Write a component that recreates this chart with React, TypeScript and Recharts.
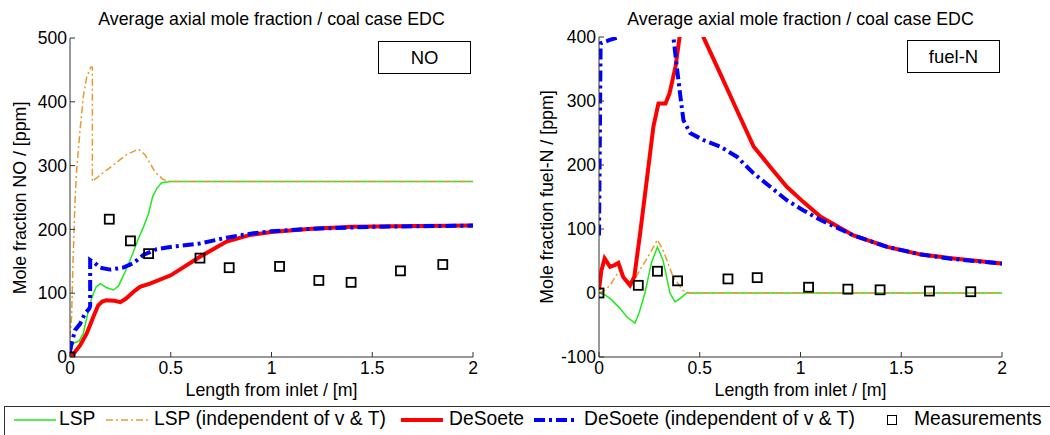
import { ComposedChart, Line, Scatter, XAxis, YAxis } from "recharts";

type Pt = [number, number];

const xTicks = [0, 0.5, 1, 1.5, 2];
const noTicks = [0, 100, 200, 300, 400, 500];
const fuelTicks = [-100, 0, 100, 200, 300, 400];

// NO panel
const lspNO: Pt[] = [
  [0, 5], [0.01, 18], [0.02, 22], [0.045, 25], [0.066, 37], [0.086, 65], [0.107, 92],
  [0.13, 110], [0.15, 115], [0.18, 109], [0.215, 105], [0.24, 111], [0.27, 131],
  [0.305, 157], [0.34, 186], [0.365, 204], [0.39, 225], [0.41, 251], [0.43, 264],
  [0.455, 273], [0.5, 275], [1, 275], [2, 275],
];
const lspIndepNO: Pt[] = [
  [0, 30], [0.008, 63], [0.015, 150], [0.025, 246], [0.033, 293], [0.05, 356],
  [0.066, 408], [0.083, 439], [0.103, 454], [0.111, 454], [0.111, 275], [0.149, 285],
  [0.215, 301], [0.28, 317], [0.339, 326], [0.372, 317], [0.397, 304], [0.422, 290],
  [0.463, 278], [0.5, 275], [2, 275],
];
const deSoeteNO: Pt[] = [
  [0, 0], [0.02, 6], [0.05, 18], [0.083, 37], [0.116, 63], [0.14, 81], [0.16, 87],
  [0.18, 89], [0.22, 88], [0.25, 86], [0.28, 92], [0.314, 102], [0.347, 110],
  [0.397, 115], [0.5, 128], [0.645, 157], [0.777, 181], [0.89, 191], [1, 196],
  [1.2, 201], [1.4, 204], [1.6, 205], [2, 206],
];
const deSoeteIndepNO: Pt[] = [
  [0, 8], [0.008, 21], [0.025, 42], [0.05, 52], [0.074, 68], [0.096, 76], [0.1, 80],
  [0.1, 152], [0.124, 147], [0.149, 140], [0.198, 137], [0.264, 140], [0.314, 147],
  [0.364, 160], [0.43, 169], [0.512, 173], [0.645, 178], [0.777, 187], [0.91, 194],
  [1, 197], [1.2, 201], [1.5, 204], [2, 206],
];
const measNO: Pt[] = [
  [0, 0], [0.195, 216], [0.3, 182], [0.39, 162], [0.645, 155], [0.79, 140],
  [1.04, 142], [1.235, 120], [1.395, 117], [1.64, 135], [1.85, 145],
];

// fuel-N panel
const lspFuelN: Pt[] = [
  [0, 0], [0.03, -3], [0.06, -10], [0.104, -24], [0.14, -38], [0.179, -47], [0.2, -30],
  [0.228, 0], [0.26, 47], [0.29, 72], [0.318, 51], [0.352, 0], [0.377, -14],
  [0.405, -8], [0.435, 0], [2, 0],
];
const lspIndepFuelN: Pt[] = [
  [0, 0], [0.03, 5], [0.055, 12], [0.08, 25], [0.104, 36], [0.129, 23], [0.162, 12],
  [0.203, 36], [0.244, 57], [0.29, 83], [0.318, 67], [0.368, 25], [0.417, 4],
  [0.45, 0], [2, 0],
];
const deSoeteFuelN: Pt[] = [
  [0, 5], [0.012, 35], [0.028, 54], [0.055, 41], [0.08, 44], [0.096, 47], [0.12, 25],
  [0.154, 12], [0.175, 25], [0.204, 93], [0.237, 176], [0.27, 260], [0.295, 296],
  [0.33, 296], [0.35, 312], [0.38, 354], [0.4, 400], [0.43, 450], [0.48, 450],
  [0.518, 400], [0.6, 344], [0.684, 286], [0.767, 229], [0.85, 197], [0.932, 166],
  [1.015, 142], [1.1, 119], [1.263, 90], [1.43, 72], [1.6, 60], [1.76, 54], [2, 46],
];
const deSoeteIndepFuelN: Pt[] = [
  [0, 90], [0.003, 200], [0.008, 390], [0.05, 395], [0.1, 400], [0.2, 460], [0.33, 460],
  [0.369, 400], [0.386, 354], [0.402, 312], [0.419, 270], [0.452, 250], [0.518, 239],
  [0.6, 229], [0.684, 213], [0.767, 187], [0.85, 166], [0.932, 145], [1.015, 129],
  [1.1, 114], [1.263, 90], [1.43, 72], [1.6, 60], [1.76, 53], [2, 46],
];
const measFuelN: Pt[] = [
  [0, 0], [0.195, 12], [0.29, 34], [0.39, 19], [0.64, 22], [0.785, 24], [1.04, 9],
  [1.235, 6], [1.395, 5], [1.64, 3], [1.845, 2],
];

const GREEN = "#22e822";
const ORANGE = "#e89a2c";
const RED = "#ff0000";
const BLUE = "#0000ff";
const FONT = '"Liberation Sans", Arial, sans-serif';
const AXIS = "#333";

const rows = (pts: Pt[]) => pts.map(([x, y]) => ({ x, y }));

function Square(props: any) {
  const { cx, cy } = props;
  if (cx == null || cy == null) return <g />;
  return (
    <rect x={cx - 4.5} y={cy - 4.5} width={9} height={9} fill="none" stroke="#000" strokeWidth={1.8} />
  );
}

type PanelProps = {
  left: number;
  plotLeft: number;
  plotTop: number;
  plotRight: number;
  labelX: number;
  domain: [number, number];
  yTicks: number[];
  lsp: Pt[];
  lspIndep: Pt[];
  deSoete: Pt[];
  deSoeteIndep: Pt[];
  meas: Pt[];
  yLabel: string;
  tag: string;
};

function Panel(p: PanelProps) {
  const W = 525;
  const H = 400;
  const tickStyle = { fill: "#000", fontSize: 17.5, fontFamily: FONT };
  const cx = p.left + (p.plotLeft + p.plotRight) / 2;
  const midY = (p.plotTop + 357) / 2;
  return (
    <>
      <div style={{ position: "absolute", left: cx - 250, top: 8, width: 500, textAlign: "center", fontSize: 17.8, lineHeight: "22px" }}>
        Average axial mole fraction / coal case EDC
      </div>
      <div style={{ position: "absolute", left: cx - 250, top: 379, width: 500, textAlign: "center", fontSize: 17.8, lineHeight: "22px" }}>
        Length from inlet / [m]
      </div>
      <div
        style={{
          position: "absolute",
          left: p.left + p.labelX - 150,
          top: midY - 11,
          width: 300,
          textAlign: "center",
          fontSize: 17.8,
          lineHeight: "22px",
          transform: "rotate(-90deg)",
        }}
      >
        {p.yLabel}
      </div>
      <div style={{ position: "absolute", left: p.left }}>
        <ComposedChart
          width={W}
          height={H}
          margin={{ top: p.plotTop, right: W - p.plotRight, bottom: 0, left: 0 }}
        >
          <XAxis
            dataKey="x"
            type="number"
            domain={[0, 2]}
            ticks={xTicks}
            interval={0}
            allowDataOverflow
            height={43}
            tickSize={-5}
            tickMargin={10}
            stroke={AXIS}
            tick={tickStyle}
          />
          <XAxis xAxisId="top" orientation="top" type="number" domain={[0, 2]} ticks={xTicks} interval={0} height={0} tick={false} tickSize={-5} stroke={AXIS} />
          <YAxis
            type="number"
            domain={p.domain}
            ticks={p.yTicks}
            interval={0}
            allowDataOverflow
            width={p.plotLeft}
            tickSize={-5}
            tickMargin={8}
            stroke={AXIS}
            tick={tickStyle}
          />
          <YAxis yAxisId="r" orientation="right" type="number" domain={p.domain} ticks={p.yTicks} interval={0} width={0} tick={false} tickSize={-5} stroke={AXIS} />
          <Line data={rows(p.lsp)} dataKey="y" type="linear" stroke={GREEN} strokeWidth={1.5} dot={false} activeDot={false} isAnimationActive={false} />
          <Line data={rows(p.lspIndep)} dataKey="y" type="linear" stroke={ORANGE} strokeWidth={1.5} strokeDasharray="7 3 2 3" dot={false} activeDot={false} isAnimationActive={false} />
          <Line data={rows(p.deSoete)} dataKey="y" type="linear" stroke={RED} strokeWidth={4} dot={false} activeDot={false} isAnimationActive={false} />
          <Line data={rows(p.deSoeteIndep)} dataKey="y" type="linear" stroke={BLUE} strokeWidth={4} strokeDasharray="11 4 3 4" dot={false} activeDot={false} isAnimationActive={false} />
          <Scatter data={rows(p.meas)} dataKey="y" shape={<Square />} isAnimationActive={false} />
        </ComposedChart>
      </div>
      <div
        style={{
          position: "absolute",
          left: p.left + p.plotRight - 95,
          top: p.plotTop + 3,
          width: 93,
          height: 33,
          boxSizing: "border-box",
          border: "1px solid #000",
          background: "#fff",
          textAlign: "center",
          fontSize: 18.5,
          lineHeight: "31px",
        }}
      >
        {p.tag}
      </div>
    </>
  );
}

function Sample({ color, width, dash, w = 42 }: { color: string; width: number; dash?: string; w?: number }) {
  return (
    <svg width={w} height={10} style={{ display: "block" }}>
      <line x1={0} y1={5} x2={w} y2={5} stroke={color} strokeWidth={width} strokeDasharray={dash} />
    </svg>
  );
}

export default function App() {
  return (
    <div
      style={{
        position: "fixed",
        left: 0,
        top: 0,
        width: 1050,
        height: 435,
        overflow: "hidden",
        background: "#fff",
        fontFamily: FONT,
        color: "#000",
      }}
    >
      <Panel
        left={0}
        plotLeft={70}
        plotTop={38}
        plotRight={473}
        labelX={20}
        domain={[0, 500]}
        yTicks={noTicks}
        lsp={lspNO}
        lspIndep={lspIndepNO}
        deSoete={deSoeteNO}
        deSoeteIndep={deSoeteIndepNO}
        meas={measNO}
        yLabel="Mole fraction NO / [ppm]"
        tag="NO"
      />
      <Panel
        left={525}
        plotLeft={74}
        plotTop={37}
        plotRight={477}
        labelX={22}
        domain={[-100, 400]}
        yTicks={fuelTicks}
        lsp={lspFuelN}
        lspIndep={lspIndepFuelN}
        deSoete={deSoeteFuelN}
        deSoeteIndep={deSoeteIndepFuelN}
        meas={measFuelN}
        yLabel="Mole fraction fuel-N / [ppm]"
        tag="fuel-N"
      />
      <div
        style={{
          position: "absolute",
          left: 4,
          top: 406,
          width: 1060,
          height: 40,
          border: "1px solid #333",
          boxSizing: "border-box",
          fontSize: 19.3,
        }}
      >
        <div style={{ position: "absolute", left: 9, top: 8 }}><Sample color={GREEN} width={1.5} /></div>
        <div style={{ position: "absolute", left: 54, top: 1 }}>LSP</div>
        <div style={{ position: "absolute", left: 101, top: 8 }}><Sample color={ORANGE} width={1.5} dash="7 3 2 3" w={45} /></div>
        <div style={{ position: "absolute", left: 149, top: 1 }}>LSP (independent of v &amp; T)</div>
        <div style={{ position: "absolute", left: 396, top: 8 }}><Sample color={RED} width={4} /></div>
        <div style={{ position: "absolute", left: 444, top: 1 }}>DeSoete</div>
        <div style={{ position: "absolute", left: 529, top: 8 }}><Sample color={BLUE} width={4} dash="11 4 3 4" w={44} /></div>
        <div style={{ position: "absolute", left: 579, top: 1 }}>DeSoete (independent of v &amp; T)</div>
        <div style={{ position: "absolute", left: 882, top: 8, width: 8, height: 8, border: "1.5px solid #000" }} />
        <div style={{ position: "absolute", left: 909, top: 1 }}>Measurements</div>
      </div>
    </div>
  );
}
